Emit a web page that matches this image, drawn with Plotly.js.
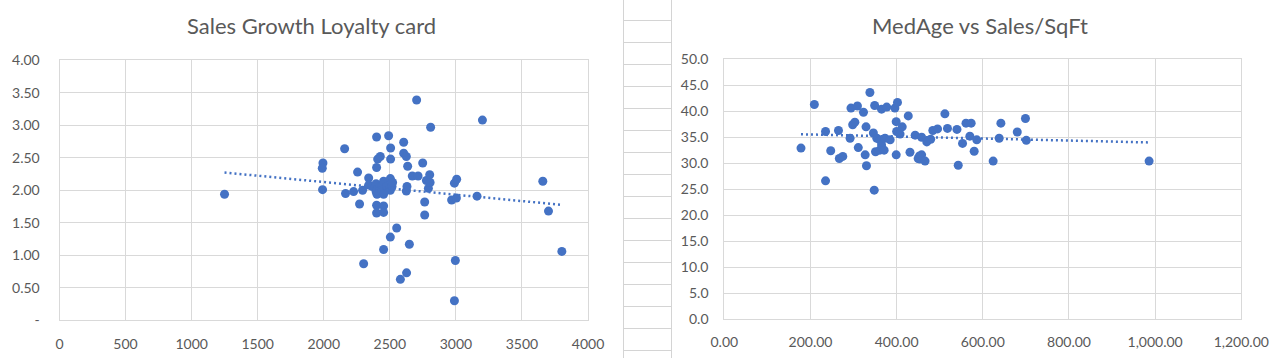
<!DOCTYPE html>
<html>
<head>
<meta charset="utf-8">
<script src="https://cdn.plot.ly/plotly-3.0.1.min.js"></script>
<style>
  html, body { margin: 0; padding: 0; background: #ffffff; }
  #chart { width: 1285px; height: 358px; }
</style>
</head>
<body>
<div id="chart"></div>
<script>
// ---- Chart 1: Sales Growth vs Loyalty card ----
const loyaltyX = [1249, 1994, 1989, 1991, 2158, 2165, 2226, 2256, 2271, 2294, 2302, 2340, 2340, 2365, 2396, 2396,
  2400, 2400, 2400, 2400, 2403, 2408, 2428, 2441, 2441, 2453, 2453, 2453, 2453, 2453, 2479, 2491, 2504, 2504, 2504,
  2506, 2506, 2517, 2521, 2552, 2580, 2605, 2605, 2625, 2625, 2627, 2630, 2635, 2648, 2670, 2703, 2714, 2749, 2764,
  2764, 2777, 2792, 2802, 2805, 2809, 2968, 2989, 2989, 2996, 3004, 3006, 3160, 3201, 3658, 3701, 3802];
const salesGrowth = [1.94, 2.42, 2.34, 2.01, 2.64, 1.95, 1.98, 2.28, 1.79, 2.00, 0.87, 2.19, 2.08, 2.06, 2.10, 1.98,
  2.82, 2.35, 1.77, 1.65, 1.94, 2.48, 2.52, 2.07, 1.99, 2.14, 1.94, 1.76, 1.66, 1.09, 2.06, 2.84, 2.18, 2.00, 1.28,
  2.65, 2.48, 2.06, 2.12, 1.42, 0.63, 2.74, 2.57, 2.52, 1.99, 0.73, 2.06, 2.37, 1.17, 2.22, 3.39, 2.22, 2.42, 1.82,
  1.62, 2.15, 2.03, 2.24, 2.12, 2.97, 1.85, 2.11, 0.30, 0.92, 1.88, 2.17, 1.91, 3.08, 2.14, 1.68, 1.06];
const chart1Title = "Sales Growth Loyalty card";
const x1TickVals = [0, 500, 1000, 1500, 2000, 2500, 3000, 3500, 4000];
const x1TickText = ["0", "500", "1000", "1500", "2000", "2500", "3000", "3500", "4000"];
const y1TickVals = [0, 0.5, 1, 1.5, 2, 2.5, 3, 3.5, 4];
const y1TickText = ["-", "0.50", "1.00", "1.50", "2.00", "2.50", "3.00", "3.50", "4.00"];

// ---- Chart 2: MedAge vs Sales/SqFt ----
const salesPerSqFt = [178, 209, 235, 235, 247, 265, 267, 275, 292, 294, 298, 303, 309, 311, 323, 327, 329, 330, 338,
  346, 348, 349, 351, 354, 361, 361, 365, 365, 371, 373, 377, 385, 396, 399, 399, 400, 402, 408, 413, 427, 431, 443,
  450, 453, 454, 458, 458, 466, 470, 479, 484, 495, 512, 518, 540, 543, 553, 561, 570, 573, 580, 586, 624, 638, 642,
  680, 699, 701, 986];
const medAge = [32.9, 41.3, 36.1, 26.6, 32.4, 36.3, 30.9, 31.3, 34.8, 40.6, 37.4, 37.9, 41.0, 33.0, 39.8, 31.6, 37.0,
  29.5, 43.6, 35.8, 24.8, 41.1, 32.2, 34.8, 34.5, 32.5, 40.4, 33.5, 32.5, 34.8, 40.8, 34.5, 40.6, 38.0, 31.6, 36.1,
  41.7, 35.6, 37.0, 39.1, 32.1, 35.4, 30.9, 31.4, 30.8, 35.0, 31.6, 30.4, 34.1, 34.6, 36.3, 36.6, 39.5, 36.7, 36.5,
  29.6, 33.8, 37.7, 35.2, 37.7, 32.3, 34.5, 30.4, 34.8, 37.7, 36.0, 38.6, 34.4, 30.4];
const chart2Title = "MedAge vs Sales/SqFt";
const x2TickVals = [0, 200, 400, 600, 800, 1000, 1200];
const x2TickText = ["0.00", "200.00", "400.00", "600.00", "800.00", "1,000.00", "1,200.00"];
const y2TickVals = [0, 5, 10, 15, 20, 25, 30, 35, 40, 45, 50];
const y2TickText = ["0.0", "5.0", "10.0", "15.0", "20.0", "25.0", "30.0", "35.0", "40.0", "45.0", "50.0"];

// linear least-squares trendline (like Excel's linear trendline)
function trend(xs, ys) {
  const n = xs.length;
  let sx = 0, sy = 0, sxx = 0, sxy = 0;
  for (let i = 0; i < n; i++) { sx += xs[i]; sy += ys[i]; sxx += xs[i] * xs[i]; sxy += xs[i] * ys[i]; }
  const m = (n * sxy - sx * sy) / (n * sxx - sx * sx);
  const b = (sy - m * sx) / n;
  const xmin = Math.min(...xs), xmax = Math.max(...xs);
  return { x: [xmin, xmax], y: [m * xmin + b, m * xmax + b] };
}

const W = 1285, H = 358;
const px = v => v / W;
const py = v => 1 - v / H;

const BLUE = '#4472C4';
const GRID = '#d9d9d9';
const TXT = '#595959';
const FONT = 'Lato, "Open Sans", sans-serif';

const t1 = trend(loyaltyX, salesGrowth);
const t2 = trend(salesPerSqFt, medAge);

const traces = [
  { type: 'scatter', mode: 'markers', x: loyaltyX, y: salesGrowth, xaxis: 'x', yaxis: 'y',
    marker: { color: BLUE, size: 9 }, hoverinfo: 'x+y' },
  { type: 'scatter', mode: 'lines', x: t1.x, y: t1.y, xaxis: 'x', yaxis: 'y',
    line: { color: BLUE, width: 2.5, dash: '2px,3px' }, hoverinfo: 'skip' },
  { type: 'scatter', mode: 'markers', x: salesPerSqFt, y: medAge, xaxis: 'x2', yaxis: 'y2',
    marker: { color: BLUE, size: 9 }, hoverinfo: 'x+y' },
  { type: 'scatter', mode: 'lines', x: t2.x, y: t2.y, xaxis: 'x2', yaxis: 'y2',
    line: { color: BLUE, width: 2.5, dash: '2px,3px' }, hoverinfo: 'skip' }
];

function axisBase() {
  return {
    showgrid: true, gridcolor: GRID, gridwidth: 1, zeroline: false,
    showline: true, linecolor: GRID, linewidth: 1, mirror: true,
    ticks: '', tickmode: 'array', fixedrange: true,
    tickfont: { family: FONT, size: 14, color: TXT }
  };
}

// spreadsheet cell grid visible between the two charts
const shapes = [];
const cellLine = { color: '#d4d4d4', width: 1 };
shapes.push({ type: 'line', xref: 'paper', yref: 'paper', x0: px(623.5), x1: px(623.5), y0: 0, y1: 1, line: cellLine, layer: 'below' });
shapes.push({ type: 'line', xref: 'paper', yref: 'paper', x0: px(671.5), x1: px(671.5), y0: 0, y1: 1, line: cellLine, layer: 'below' });
for (let yy = 20.5; yy < H; yy += 22) {
  shapes.push({ type: 'line', xref: 'paper', yref: 'paper', x0: px(623.5), x1: px(671.5), y0: py(yy), y1: py(yy), line: cellLine, layer: 'below' });
}

const layout = {
  width: W, height: H,
  margin: { l: 0, r: 0, t: 0, b: 0 },
  paper_bgcolor: '#ffffff', plot_bgcolor: '#ffffff',
  showlegend: false,
  font: { family: FONT, color: TXT },
  xaxis: Object.assign(axisBase(), { domain: [px(59.5), px(588)], range: [0, 4000],
    tickvals: x1TickVals, ticktext: x1TickText, anchor: 'y', ticklabelstandoff: 11 }),
  yaxis: Object.assign(axisBase(), { domain: [py(320.3), py(60.3)], range: [0, 4],
    tickvals: y1TickVals, ticktext: y1TickText, anchor: 'x', ticklabelstandoff: 16 }),
  xaxis2: Object.assign(axisBase(), { domain: [px(724.3), px(1241.3)], range: [0, 1200],
    tickvals: x2TickVals, ticktext: x2TickText, anchor: 'y2', ticklabelstandoff: 10 }),
  yaxis2: Object.assign(axisBase(), { domain: [py(319), py(59.3)], range: [0, 50],
    tickvals: y2TickVals, ticktext: y2TickText, anchor: 'x2', ticklabelstandoff: 12 }),
  shapes: shapes,
  annotations: [
    { text: chart1Title, xref: 'paper', yref: 'paper', x: px(311), y: py(26), xanchor: 'center', yanchor: 'middle',
      showarrow: false, font: { family: FONT, size: 22, color: TXT } },
    { text: chart2Title, xref: 'paper', yref: 'paper', x: px(980.5), y: py(26), xanchor: 'center', yanchor: 'middle',
      showarrow: false, font: { family: FONT, size: 22, color: TXT } }
  ]
};

Plotly.newPlot('chart', traces, layout, { staticPlot: true, displayModeBar: false });
</script>
</body>
</html>
